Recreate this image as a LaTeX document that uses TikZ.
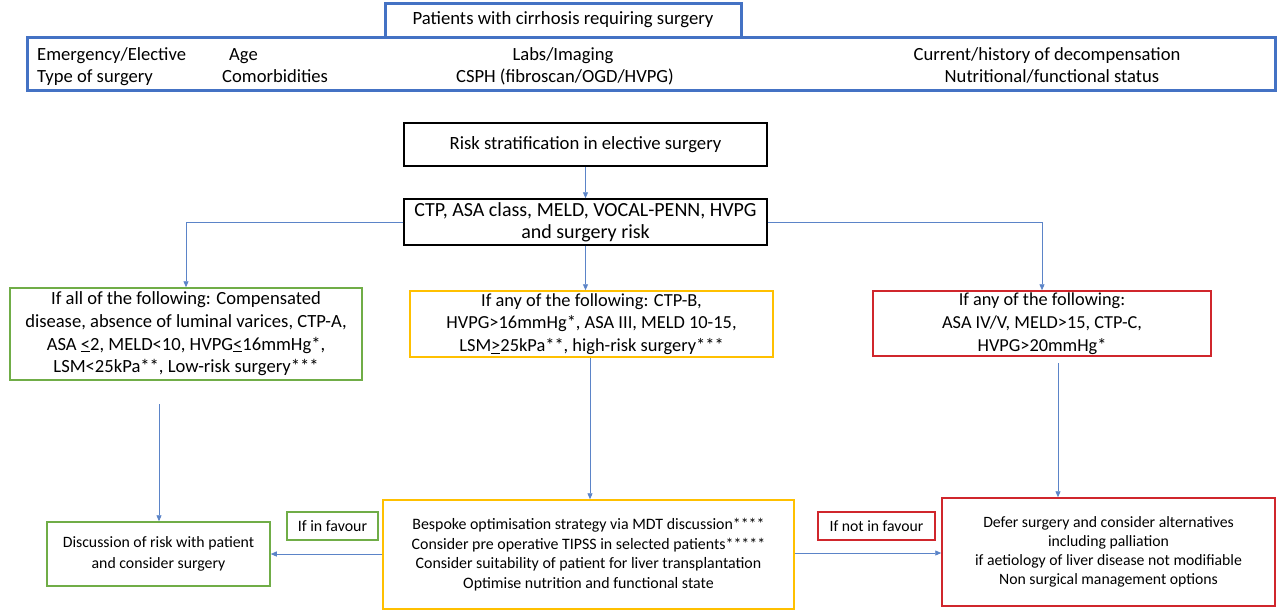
\documentclass[tikz,border=0pt]{standalone}
\usepackage{fontspec}
\setmainfont{Carlito}
\usetikzlibrary{arrows.meta}
\definecolor{mblue}{HTML}{4472C4}
\definecolor{mgreen}{HTML}{70AD47}
\definecolor{myellow}{HTML}{FFC000}
\definecolor{mred}{HTML}{D0262C}
\definecolor{aline}{HTML}{5B84C8}
\begin{document}
\begin{tikzpicture}[x=1pt,y=-1pt,
  box/.style={draw, rectangle, inner sep=0pt, align=center, line width=1.5pt},
  bluebox/.style={box, draw=mblue, line width=3pt},
  greenbox/.style={box, draw=mgreen},
  yellowbox/.style={box, draw=myellow},
  redbox/.style={box, draw=mred},
  blackbox/.style={box, draw=black},
  txt/.style={inner sep=0pt, font=\fontsize{18.6}{22}\selectfont},
  conn/.style={draw=aline, line width=0.9pt, -{Triangle[length=6pt,width=5pt]}},
  fl/.style 2 args={font=\fontsize{#1}{#2}\selectfont}
]
\useasboundingbox (0,0) rectangle (1280,614);
\fill[white] (0,0) rectangle (1280,614);

% top boxes
\node[bluebox, minimum width=1248pt, minimum height=53pt] (info) at (651,63.5) {};
\node[bluebox, fill=white, minimum width=356pt, minimum height=34pt, fl={18.7}{22}] (title) at (563,20) {Patients with cirrhosis requiring surgery};

\node[txt, anchor=base west] (t1) at (37,60) {Emergency/Elective};
\node[txt, anchor=base west] (t2) at (37,82) {Type of surgery};
\node[txt, anchor=base west] (t3) at (229,60) {Age};
\node[txt, anchor=base west] (t4) at (222,82) {Comorbidities};
\node[txt, anchor=base] (t5) at (563,60) {Labs/Imaging};
\node[txt, anchor=base] (t6) at (565,82) {CSPH (fibroscan/OGD/HVPG)};
\node[txt, anchor=base] (t7) at (1047,60) {Current/history of decompensation};
\node[txt, anchor=base] (t8) at (1052,82) {Nutritional/functional status};

% risk
\node[blackbox, minimum width=363pt, minimum height=43pt, fl={18.7}{22}] (risk) at (585.5,144.5) {Risk stratification in elective surgery};
\node[blackbox, minimum width=363pt, minimum height=46pt, fl={20}{22}] (ctp) at (585.5,222) {CTP, ASA class, MELD, VOCAL-PENN, HVPG\\and surgery risk};

% level 2
\node[greenbox, minimum width=352pt, minimum height=92pt, fl={18.6}{22.7}] (low) at (186,334)
 {If all of the following: Compensated\\disease, absence of luminal varices, CTP-A,\\ASA \underline{<}2, MELD<10, HVPG\underline{<}16mmHg*,\\LSM<25kPa**, Low-risk surgery***};
\node[yellowbox, minimum width=363pt, minimum height=66pt, fl={18.4}{22.5}] (mid) at (591.5,324)
 {If any of the following: CTP-B,\\HVPG>16mmHg*, ASA III, MELD 10-15,\\LSM\underline{>}25kPa**, high-risk surgery***};
\node[redbox, minimum width=338pt, minimum height=65pt, fl={18.3}{23}] (high) at (1042,323.5)
 {If any of the following:\\ASA IV/V, MELD>15, CTP-C,\\HVPG>20mmHg*};

% bottom
\node[greenbox, minimum width=223pt, minimum height=64pt, fl={15.8}{21}] (disc) at (158.5,554)
 {Discussion of risk with patient\\and consider surgery};
\node[greenbox, minimum width=91pt, minimum height=28pt, fl={15.9}{19}] (fav) at (332.5,526) {If in favour};
\node[yellowbox, minimum width=411pt, minimum height=109pt, fl={15.9}{19.7}] (opt) at (588.5,554.5)
 {Bespoke optimisation strategy via MDT discussion****\\Consider pre operative TIPSS in selected patients*****\\Consider suitability of patient for liver transplantation\\Optimise nutrition and functional state};
\node[redbox, minimum width=117pt, minimum height=28pt, fl={15.7}{19}] (nfav) at (876.5,526) {If not in favour};
\node[redbox, minimum width=333pt, minimum height=108pt, fl={15.75}{19}] (defer) at (1108.5,552)
 {Defer surgery and consider alternatives\\including palliation\\if aetiology of liver disease not modifiable\\Non surgical management options};

% connectors
\coordinate (lowend) at (159,404);
\coordinate (highend) at (1058,363);
\draw[conn] (risk.south) -- (ctp.north);
\draw[conn] (ctp.west) -| (low.north);
\draw[conn] (ctp.east) -| (high.north);
\draw[conn] (ctp.south) -- (mid.north -| ctp.south);
\draw[conn] (lowend) -- (lowend |- disc.north);
\draw[conn] (mid.south -| 590,0) -- (opt.north -| 590,0);
\draw[conn] (highend) -- (highend |- defer.north);
\draw[conn] (opt.west |- 0,554) -- (disc.east |- 0,554);
\draw[conn] (opt.east |- 0,553) -- (defer.west |- 0,553);
\end{tikzpicture}
\end{document}
